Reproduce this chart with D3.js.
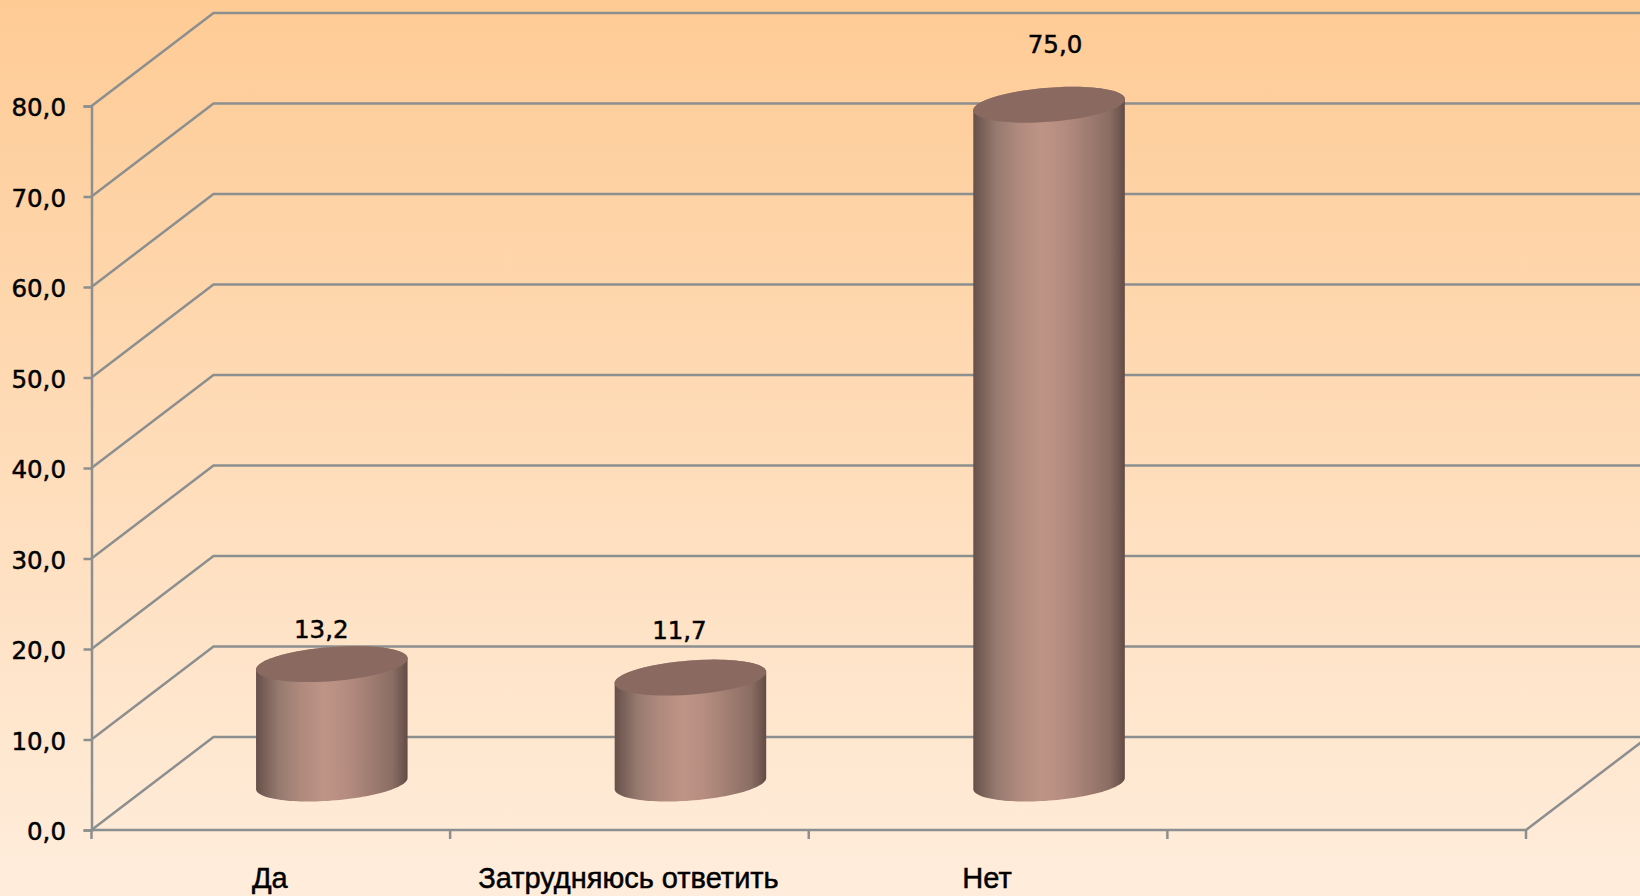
<!DOCTYPE html>
<html>
<head>
<meta charset="utf-8">
<script src="https://cdn.jsdelivr.net/npm/d3@7"></script>
<style>
  html, body { margin: 0; padding: 0; overflow: hidden; }
  svg { display: block; }
  text { fill: #000; stroke: #000; stroke-width: 0.5px; }
</style>
</head>
<body>
<svg></svg>
<script>
const categories = ["Да", "Затрудняюсь ответить", "Нет"];
const values = [13.2, 11.7, 75.0];
const valueLabels = ["13,2", "11,7", "75,0"];
const yTicks = [0, 10, 20, 30, 40, 50, 60, 70, 80];

const width = 1640;
const height = 896;
const svg = d3.select("svg").attr("width", width).attr("height", height);

//Oblique 3d offset between the front plane and the back wall
const depthX = 122;
const depthY = -93;

const xScale = d3.scaleBand().domain([...categories, ""]).range([91.5, 1526]);
const yScale = d3.scaleLinear().domain([0, 80]).range([830, 106]);

const defs = svg.append("defs");

const bg = defs.append("linearGradient").attr("id", "bg").attr("x1", 0).attr("y1", 0).attr("x2", 0).attr("y2", 1);
bg.append("stop").attr("offset", "0%").attr("stop-color", "#fecb95");
bg.append("stop").attr("offset", "100%").attr("stop-color", "#ffeddc");

const body = defs.append("linearGradient").attr("id", "body").attr("x1", 0).attr("y1", 0).attr("x2", 1).attr("y2", 0);
[[0, "#66504a"], [0.05, "#775e56"], [0.15, "#967a6f"], [0.3, "#b08a7d"], [0.45, "#be9486"], [0.6, "#b58d80"], [0.75, "#a07d71"], [0.9, "#8a6d63"], [1, "#634c46"]].forEach(d => {
  body.append("stop").attr("offset", d[0]).attr("stop-color", d[1]);
});

svg.append("rect").attr("width", width).attr("height", height).attr("fill", "url(#bg)");

const grid = svg.append("g").attr("fill", "none").attr("stroke", "#8c8f8f").attr("stroke-width", 2.5);

//Side wall diagonals and back wall lines
grid.selectAll(".wall").data(yTicks).enter().append("path").attr("class", "wall")
  .attr("d", d => {
    const x = xScale.range()[0];
    const y = yScale(d);
    return `M${x},${y}L${x + depthX},${y + depthY}H${width}`;
  });

//Floor edge on the right
grid.append("line")
  .attr("x1", xScale.range()[1]).attr("y1", yScale(0))
  .attr("x2", xScale.range()[1] + depthX).attr("y2", yScale(0) + depthY);

const yAxis = d3.axisLeft(yScale).tickValues(yTicks).tickSize(8).tickPadding(17.5)
  .tickFormat(d => d3.format(".1f")(d).replace(".", ","));
const yG = svg.append("g").attr("transform", `translate(${xScale.range()[0]},0)`).call(yAxis);

const xAxis = d3.axisBottom(xScale).tickSize(0).tickFormat("");
const xG = svg.append("g").attr("transform", `translate(0,${yScale(0)})`).call(xAxis);
xG.selectAll(".tick").remove();
xG.selectAll(".domain").attr("d", `M${xScale.range()[0]},0H${xScale.range()[1]}`);

const xBoundaries = [...xScale.domain().map(d => xScale(d)), xScale.range()[1]];
xG.selectAll(".xtick").data(xBoundaries).enter().append("line").attr("class", "xtick")
  .attr("x1", d => d).attr("x2", d => d).attr("y1", 0).attr("y2", 9);

[yG, xG].forEach(g => {
  g.selectAll(".domain, line, .xtick").attr("stroke", "#8c8f8f").attr("stroke-width", 2.5);
});
yG.selectAll("text").style("font-family", '"DejaVu Sans", sans-serif').style("font-size", "24.5px").attr("fill", "#000").attr("dy", "0.39em");

//Cylinder shapes: half width a, skew b, half height c of the tilted ellipse
const a = 72;
const b = 23.6;
const c = 18;
const tMax = Math.atan2(b, a);

const ellipsePoint = (cx, cy, t) => [cx + a * Math.cos(t) + b * Math.sin(t), cy - c * Math.sin(t)];
const lineGen = d3.line();
const arcPoints = (cx, cy, from, to) => d3.range(0, 61).map(i => ellipsePoint(cx, cy, from + (to - from) * i / 60));

const centerX = d => xScale(d) + xScale.bandwidth() / 2 + depthX / 2;
const centerY = v => yScale(v) + depthY / 2;

//Data labels were placed by hand in the original, so each one has its own nudge
const labelNudgeX = [-10.5, -11, 6];
const labelNudgeY = [-26, -38.6, -51.8];

const bars = svg.append("g").selectAll("g").data(categories.map((d, i) => ({ name: d, value: values[i], label: valueLabels[i], i: i })))
  .enter().append("g");

bars.append("path")
  .attr("fill", "url(#body)")
  .attr("d", d => {
    const cx = centerX(d.name);
    const topY = centerY(d.value);
    const baseY = centerY(0);
    //right edge, back along the top, left edge, then lower half of the base
    const pts = [
      ...arcPoints(cx, topY, tMax, tMax + Math.PI),
      ...arcPoints(cx, baseY, tMax + Math.PI, tMax + 2 * Math.PI)
    ];
    return lineGen(pts) + "Z";
  });

bars.append("path")
  .attr("fill", "#8a6a60")
  .attr("d", d => lineGen(arcPoints(centerX(d.name), centerY(d.value), 0, 2 * Math.PI)) + "Z");

bars.append("text")
  .attr("x", d => centerX(d.name) + labelNudgeX[d.i])
  .attr("y", d => centerY(d.value) + labelNudgeY[d.i])
  .attr("text-anchor", "middle")
  .style("font-family", '"DejaVu Sans", sans-serif')
  .style("font-size", "24.5px")
  .text(d => d.label);

//Category labels
svg.append("g").selectAll("text").data(categories).enter().append("text")
  .attr("x", d => xScale(d) + xScale.bandwidth() / 2 - 1)
  .attr("y", 888)
  .attr("text-anchor", "middle")
  .style("font-family", '"Liberation Sans", sans-serif')
  .style("font-size", "29px")
  .text(d => d);
</script>
</body>
</html>
